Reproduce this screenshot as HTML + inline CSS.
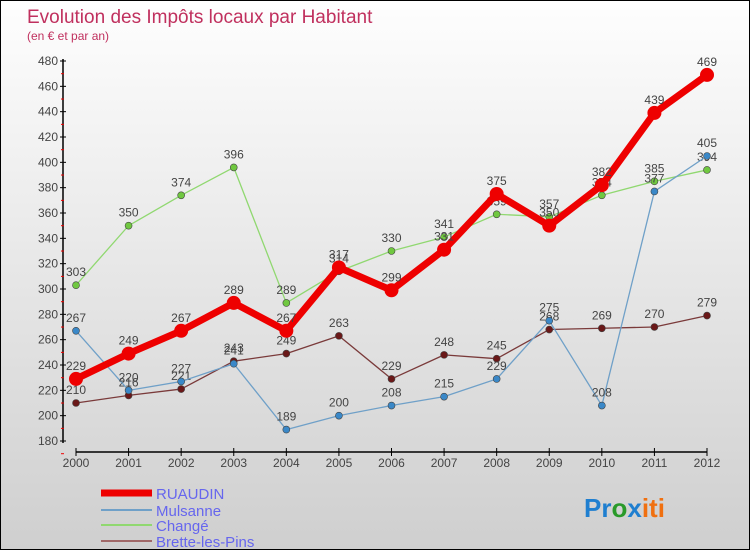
<!DOCTYPE html>
<html><head><meta charset="utf-8"><style>
body{margin:0;}
#c{width:748px;height:548px;border:1px solid #000;background:linear-gradient(#fefefe,#cfcfcf);position:relative;font-family:"Liberation Sans",sans-serif;overflow:hidden}
</style></head><body>
<div id="c">
<svg width="748" height="548" id="svg">
<text x="26" y="22" font-size="19" fill="#c0305e">Evolution des Impôts locaux par Habitant</text>
<text x="26" y="39" font-size="12" fill="#c0305e">(en € et par an)</text>
<g id="axes"></g><g id="series"></g>
<g>
<line x1="100" y1="492" x2="151" y2="492" stroke="#e00" stroke-width="7"/>
<text x="155" y="498" font-size="15" fill="#6666ee">RUAUDIN</text>
<line x1="100" y1="509" x2="151" y2="509" stroke="#6fa0c8" stroke-width="2"/>
<text x="155" y="515" font-size="15" fill="#6666ee">Mulsanne</text>
<line x1="100" y1="524" x2="151" y2="524" stroke="#90d870" stroke-width="2"/>
<text x="155" y="530" font-size="15" fill="#6666ee">Changé</text>
<line x1="100" y1="540" x2="151" y2="540" stroke="#a06868" stroke-width="2"/>
<text x="155" y="546" font-size="15" fill="#6666ee">Brette-les-Pins</text>
</g>
<text x="583" y="516" font-size="26" font-weight="bold"><tspan fill="#1f7fd0">Pr</tspan><tspan fill="#2a9a2a">o</tspan><tspan fill="#1f7fd0">x</tspan><tspan fill="#f07010">iti</tspan></text>
</svg></div>
<script>
const years=[2000,2001,2002,2003,2004,2005,2006,2007,2008,2009,2010,2011,2012];
const yTicks=[180,200,220,240,260,280,300,320,340,360,380,400,420,440,460,480];
const ruaudin=[229,249,267,289,267,317,299,331,375,350,382,439,469];
const mulsanne=[267,220,227,241,189,200,208,215,229,275,208,377,405];
const change=[303,350,374,396,289,314,330,341,359,357,374,385,394];
const brette=[210,216,221,243,249,263,229,248,245,268,269,270,279];
const NS="http://www.w3.org/2000/svg";
function X(i){return 75+i*(706-75)/(years.length-1);}
function Y(v){return 440-(v-180)*380/300;}
function mk(t,a,p){const e=document.createElementNS(NS,t);for(const k in a)e.setAttribute(k,a[k]);p.appendChild(e);return e;}
const ax=document.getElementById('axes');
mk('line',{x1:62,y1:58,x2:62,y2:442,stroke:'#000','stroke-width':1.5},ax);
mk('line',{x1:75,y1:451,x2:706,y2:451,stroke:'#000','stroke-width':1.5},ax);
yTicks.forEach(v=>{
 mk('line',{x1:59,y1:Y(v),x2:65,y2:Y(v),stroke:'#000'},ax);
 mk('line',{x1:60,y1:Y(v)+12.7,x2:63,y2:Y(v)+12.7,stroke:'#e00'},ax);
 const t=mk('text',{x:57,y:Y(v)+4,'font-size':12,fill:'#444','text-anchor':'end'},ax);t.textContent=v;
 
 
});
years.forEach((yr,i)=>{
 mk('line',{x1:X(i),y1:447,x2:X(i),y2:455,stroke:'#000'},ax);
 const t=mk('text',{x:X(i),y:466,'font-size':12,fill:'#444','text-anchor':'middle'},ax);t.textContent=yr;
 
 
});
const sg=document.getElementById('series');
function draw(name,data,col,w,r,dot){
 const g=mk('g',{},sg);
 
 
 mk('polyline',{points:data.map((v,i)=>X(i)+','+Y(v)).join(' '),fill:'none',stroke:col,'stroke-width':w,'stroke-linejoin':'round'},g);
 data.forEach((v,i)=>{
  const c=mk('circle',{cx:X(i),cy:Y(v),r:r,fill:dot,stroke:'#444','stroke-width':r>4?0:0.6},g);
  
  
  const t=mk('text',{x:X(i),y:Y(v)-9,'font-size':12,fill:'#444','text-anchor':'middle'},g);t.textContent=v;
  
  
 });
}
draw('brette',brette,'#7a3a3a',1.3,3.5,'#6a1818');
draw('change',change,'#90d870',1.3,3.5,'#70c840');
draw('mulsanne',mulsanne,'#6fa0c8',1.3,3.5,'#3a88c8');
draw('ruaudin',ruaudin,'#ee0000',7,7,'#ee0000');
</script></body></html>
